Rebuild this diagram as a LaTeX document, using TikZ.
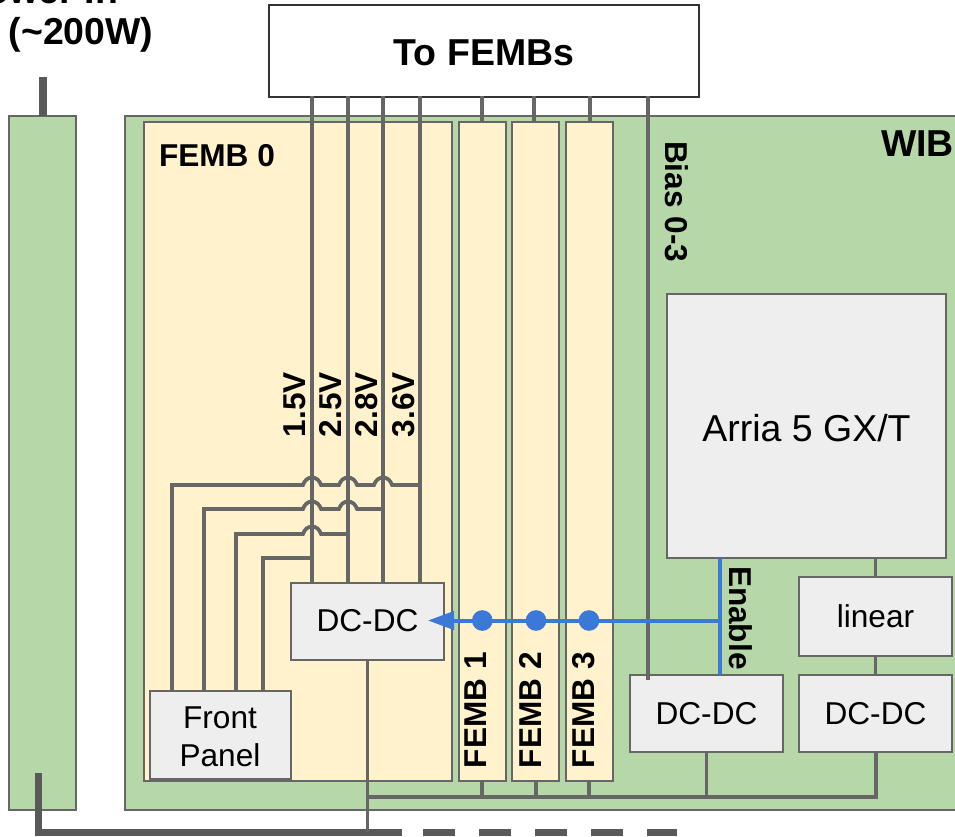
\documentclass[tikz,border=0pt]{standalone}
\usepackage{fontspec}
\setmainfont{Liberation Sans}
\usetikzlibrary{arrows.meta, positioning}

\definecolor{boardgreen}{HTML}{B6D7A8}
\definecolor{fembyellow}{HTML}{FFF2CC}
\definecolor{chipgray}{HTML}{EEEEEE}
\definecolor{wiregray}{HTML}{666666}
\definecolor{powergray}{HTML}{595959}
\definecolor{enableblue}{HTML}{3C78D8}

\newcommand{\nudge}[1]{\raisebox{-1.2pt}[\height][\depth]{#1}}

\begin{document}
\begin{tikzpicture}[
x=0.75pt,
y=-0.75pt,
every node/.style={
inner sep=0pt,
outer sep=0pt,
align=center,
font=\fontsize{23.7}{28.5}\selectfont
},
board/.style={draw=wiregray, line width=1.5pt, fill=boardgreen},
femb/.style={draw=wiregray, line width=1.5pt, fill=fembyellow, minimum height=494.25pt},
chip/.style={draw=wiregray, line width=1.5pt, fill=chipgray},
dcdc/.style={chip, minimum width=114.75pt, minimum height=57.75pt},
wire/.style={draw=wiregray, line width=2.8pt},
power/.style={draw=powergray, line width=5.25pt},
enable/.style={draw=enableblue, line width=3pt},
tap/.style={circle, fill=enableblue, minimum size=15.5pt},
bigtag/.style={font=\fontsize{28.1}{32}\selectfont\bfseries},
tag/.style={font=\fontsize{23.7}{28.5}\selectfont\bfseries},
uptag/.style={tag, rotate=90, anchor=base west},
downtag/.style={tag, rotate=-90, anchor=base west}
]

\path[use as bounding box, clip] (0,0) rectangle (955,836);

% ------------------------
% Boards
% ------------------------
\node[board, minimum width=50.25pt, minimum height=520.5pt] (psu) at (42.5,463) {};
\node[board, minimum width=660pt, minimum height=520.5pt] (wib) at (565,463) {};

\node[femb, minimum width=231pt] (femb0) at (298,451.5) {};
\node[femb, minimum width=35.25pt] (femb1) [right=5.25pt of femb0] {};
\node[femb, minimum width=35.25pt] (femb2) [right=4.5pt of femb1] {};
\node[femb, minimum width=35.25pt] (femb3) [right=5.25pt of femb2] {};

\node[draw=black!80, line width=1.5pt, fill=white, minimum width=322.5pt, minimum height=69pt, bigtag] (tofembs) at (484,51) {\nudge{To FEMBs}};

% ------------------------
% Supply rails (FEMB 0)
% ------------------------
\coordinate (v15) at (312,96);
\coordinate (v25) at (348,96);
\coordinate (v28) at (383,96);
\coordinate (v36) at (420,96);
\coordinate (fp0) at (172,691);
\coordinate (fp1) at (204,691);
\coordinate (fp2) at (236,691);
\coordinate (fp3) at (263,691);

\node[dcdc] (dcfemb) at (367.5,621) {DC-DC};
\node[chip, minimum width=105.75pt, minimum height=66pt, text width=100pt] (frontpanel) at (220,735) {\nudge{Front}\\\nudge{Panel}};

\draw[wire] (v15) -- (v15 |- dcfemb.north);
\draw[wire] (v25) -- (v25 |- dcfemb.north);
\draw[wire] (v28) -- (v28 |- dcfemb.north);
\draw[wire, line width=3.2pt] (v36) -- (v36 |- dcfemb.north);

\draw[wire] (fp0) -- (172,485) -- (303,485) .. controls (306,475) and (318,475) .. (321,485)
  -- (339,485) .. controls (342,475) and (354,475) .. (357,485)
  -- (374,485) .. controls (377,475) and (389,475) .. (392,485) -- (v36 |- 0,485);
\draw[wire] (fp1) -- (204,509) -- (303,509) .. controls (306,499) and (318,499) .. (321,509)
  -- (339,509) .. controls (342,499) and (354,499) .. (357,509) -- (v28 |- 0,509);
\draw[wire] (fp2) -- (236,534) -- (303,534) .. controls (306,524) and (318,524) .. (321,534) -- (v25 |- 0,534);
\draw[wire] (fp3) -- (263,558) -- (v15 |- 0,558);

% ------------------------
% FEMB 1-3 stubs
% ------------------------
\coordinate (stub1) at (482,96);
\coordinate (stub2) at (534,96);
\coordinate (stub3) at (590,96);
\draw[wire] (stub1) -- (stub1 |- femb1.north);
\draw[wire] (stub2) -- (stub2 |- femb2.north);
\draw[wire] (stub3) -- (stub3 |- femb3.north);

% ------------------------
% WIB parts
% ------------------------
\node[chip, minimum width=209.25pt, minimum height=198pt, font=\fontsize{28.1}{32}\selectfont] (arria) at (806.5,426) {\nudge{Arria 5 GX/T}};
\node[dcdc] (dcwib) at (706.5,713.5) {DC-DC};
\node[dcdc] (dclinear) [right=12pt of dcwib] {DC-DC};
\node[dcdc, minimum height=59.25pt] (linear) [above=14.25pt of dclinear] {linear};

\coordinate (bias) at (648,96);
\draw[wire] (bias) -- (bias |- 0,680);
\draw[wire] (arria.south -| linear) -- (linear.north);
\draw[wire] (linear.south) -- (dclinear.north);

% ------------------------
% Enable
% ------------------------
\coordinate (enabletop) at (720,558);
\coordinate (enablejoin) at (720,620.5);
\coordinate (enabletip) at (428,620.5);

\draw[enable] (enabletop) -- (enabletop |- dcwib.north);
\draw[enable, -{Triangle[length=19.5pt, width=13.5pt]}] (enablejoin) -- (enabletip);

\node[tap] (tap1) at (482.3,620.5) {};
\node[tap] (tap2) at (536,620.5) {};
\node[tap] (tap3) at (589,620.5) {};

% ------------------------
% Power in and return bus
% ------------------------
\coordinate (psutop) at (43,77);
\coordinate (pwrstart) at (38,773);
\coordinate (pwrcorner) at (38,832);
\coordinate (pwrend) at (402,832);
\coordinate (dashstart) at (423,832);
\coordinate (dashend) at (677,832);
\coordinate (busjoin) at (876,797);

\draw[power, line width=6pt] (psutop) -- (psutop |- psu.north);
\draw[power] (pwrstart) -- (pwrcorner) -- (pwrend);
\draw[power, dash pattern=on 24pt off 18pt] (dashstart) -- (dashend);

\draw[wire] (dcfemb.south) -- (dcfemb.south |- pwrcorner);
\draw[wire] (dcfemb.south |- busjoin) -- (busjoin) -- (dclinear.south -| busjoin);
\draw[wire] (dcwib.south) -- (dcwib.south |- busjoin);
\draw[wire] (femb1.south -| tap1) -- (tap1 |- busjoin);
\draw[wire] (femb2.south -| tap2) -- (tap2 |- busjoin);
\draw[wire] (femb3.south -| tap3) -- (tap3 |- busjoin);

% ------------------------
% Labels
% ------------------------
\node[bigtag, anchor=base east] (powerin) at (118,3) {Power In};
\node[bigtag, anchor=base] (powerwatts) at (81,44) {(\char`\~200W)};
\node[bigtag, anchor=base east] (wibtag) at (954,156) {WIB};
\node[tag, anchor=base west] (femb0tag) at (159,166) {FEMB 0};

\node[uptag] (v15tag) at (305.5,437) {1.5V};
\node[uptag] (v25tag) at (341.7,437) {2.5V};
\node[uptag] (v28tag) at (377.3,437) {2.8V};
\node[uptag] (v36tag) at (414,437) {3.6V};
\node[uptag] (femb1tag) at (486.6,768) {FEMB 1};
\node[uptag] (femb2tag) at (541,768) {FEMB 2};
\node[uptag] (femb3tag) at (594.6,768) {FEMB 3};
\node[downtag] (biastag) at (665.7,141) {Bias 0-3};
\node[downtag] (enabletag) at (729.2,566) {Enable};

\end{tikzpicture}
\end{document}
